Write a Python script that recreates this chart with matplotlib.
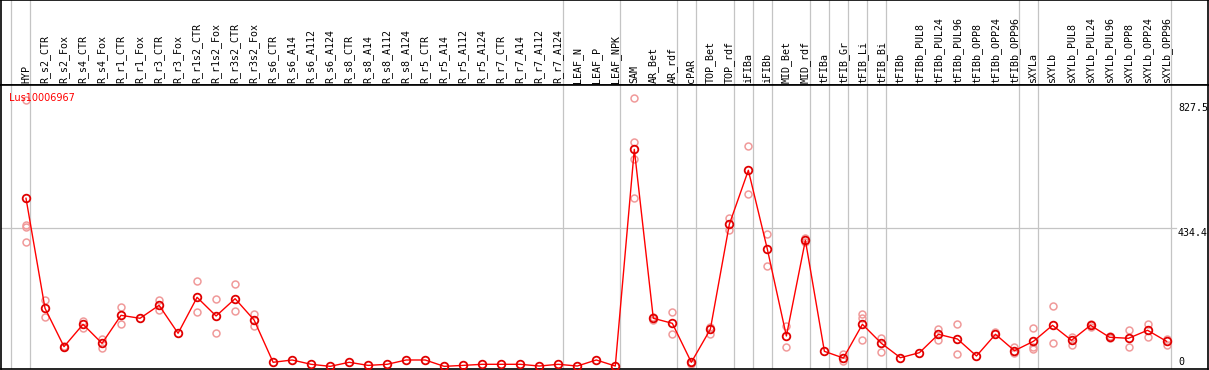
import matplotlib.pyplot as plt

# samples (column headers)
samples = ['HYP', 'R_s2_CTR', 'R_s2_Fox', 'R_s4_CTR', 'R_s4_Fox', 'R_r1_CTR', 'R_r1_Fox',
           'R_r3_CTR', 'R_r3_Fox', 'R_r1s2_CTR', 'R_r1s2_Fox', 'R_r3s2_CTR', 'R_r3s2_Fox',
           'R_s6_CTR', 'R_s6_A14', 'R_s6_A112', 'R_s6_A124', 'R_s8_CTR', 'R_s8_A14',
           'R_s8_A112', 'R_s8_A124', 'R_r5_CTR', 'R_r5_A14', 'R_r5_A112', 'R_r5_A124',
           'R_r7_CTR', 'R_r7_A14', 'R_r7_A112', 'R_r7_A124', 'LEAF_N', 'LEAF_P', 'LEAF_NPK',
           'SAM', 'AR_Bet', 'AR_rdf', 'cPAR', 'TOP_Bet', 'TOP_rdf', 'iFIBa', 'iFIBb',
           'MID_Bet', 'MID_rdf', 'tFIBa', 'tFIB_Gr', 'tFIB_Li', 'tFIB_Bi', 'tFIBb',
           'tFIBb_PUL8', 'tFIBb_PUL24', 'tFIBb_PUL96', 'tFIBb_OPP8', 'tFIBb_OPP24',
           'tFIBb_OPP96', 'sXYLa', 'sXYLb', 'sXYLb_PUL8', 'sXYLb_PUL24', 'sXYLb_PUL96',
           'sXYLb_OPP8', 'sXYLb_OPP24', 'sXYLb_OPP96']

# mean expression per sample
means = [528, 183.7, 63.6, 133.6, 74, 161.7, 152.4, 193, 105.5, 218, 159.6, 213.8, 147,
         14.7, 21.9, 8.4, 2, 14.7, 5, 8.4, 21.9, 21.9, 2, 5, 8.4, 8.4, 8.4, 3, 8.4, 3, 21.9, 3,
         681, 152.4, 136.7, 14.7, 118, 446.6, 615.6, 368.4, 97, 396.6, 49, 28, 133.6, 74, 29,
         44.8, 102.3, 87.6, 34.4, 102.3, 51, 80.4, 130.5, 83.5, 130.5, 93, 89.8, 114.9, 80.4]

# replicate values per sample
reps = [[836, 445, 437, 390], [208.7, 155.5], [66, 61], [144, 121], [87.6, 58.4],
        [186.8, 133.6], [], [209.7, 178.4], [], [268, 171], [212, 105.5], [258.8, 174.3],
        [165.9, 129.3], [], [], [], [], [], [], [], [], [], [], [], [], [], [], [], [], [], [], [],
        [841, 703, 650, 530], [155, 148], [171, 102.3], [16, 10], [126, 103], [465, 428.8],
        [691.7, 540.5], [415.3, 317], [128.3, 61.6], [405, 390], [], [41.7, 18.8],
        [166.8, 153.4, 83.5], [91.7, 46], [], [], [120, 85.5], [133.6, 39.7], [], [109.5],
        [63.6, 43], [122, 63.6, 55.4], [190, 74], [95, 68.9], [136, 126], [96, 90],
        [115.8, 62.6], [133.6, 95], [88.6, 68.9]]

# group separators (after these sample positions)
group_ends = [-1, 0, 28, 31, 34, 35, 37, 38, 39, 41, 42, 43, 44, 45, 52, 53, 60]

gene = 'Lus10006967'
yticks = [0, 434.4, 827.5]

W, H = 1209, 370
fig = plt.figure(figsize=(W / 100, H / 100), dpi=100)
xlim = (-1.315, 62.18)

hdr = fig.add_axes([1 / W, (H - 85) / H, 1207 / W, 85 / H])
ax = fig.add_axes([1 / W, 1 / H, 1207 / W, 284 / H])

for a in (hdr, ax):
    a.set_xlim(*xlim)
    a.set_xticks([])
    a.set_yticks([])
    for s in a.spines.values():
        s.set_color('black')
        s.set_linewidth(1.2)
    for g in group_ends:
        a.axvline(g + 0.23, color='#c4c4c4', lw=0.9, zorder=0)

hdr.set_ylim(85, 0)
for i, name in enumerate(samples):
    hdr.text(i, 83, name, rotation=90, ha='center', va='bottom',
             family='DejaVu Sans Mono', fontsize=7.2, color='black')

ax.set_ylim(-6.3, 882.6)
ax.plot([xlim[0], 60.5], [434.4, 434.4], color='#c4c4c4', lw=0.9, zorder=0)

for i, r in enumerate(reps):
    if r:
        ax.plot([i] * len(r), r, 'o', ms=5, mfc='none', mec='#f09a9a', mew=1.1, zorder=2)

ax.plot(range(len(means)), means, '-', color='red', lw=1, zorder=3)
ax.plot(range(len(means)), means, 'o', ms=5.5, mfc='none', mec='#e00000', mew=1.3, zorder=4)

ax.text(0.007, 0.972, gene, transform=ax.transAxes, color='red',
        fontsize=7, ha='left', va='top', zorder=5)

xr = (1178 - 26) / 19.01
for v in yticks:
    ax.text(xr, v, ('%g' % v) if v else '0', ha='left',
            va='top' if v else 'bottom', family='DejaVu Sans Mono', fontsize=7.2)

plt.savefig('out.png', dpi=100)
plt.close()
